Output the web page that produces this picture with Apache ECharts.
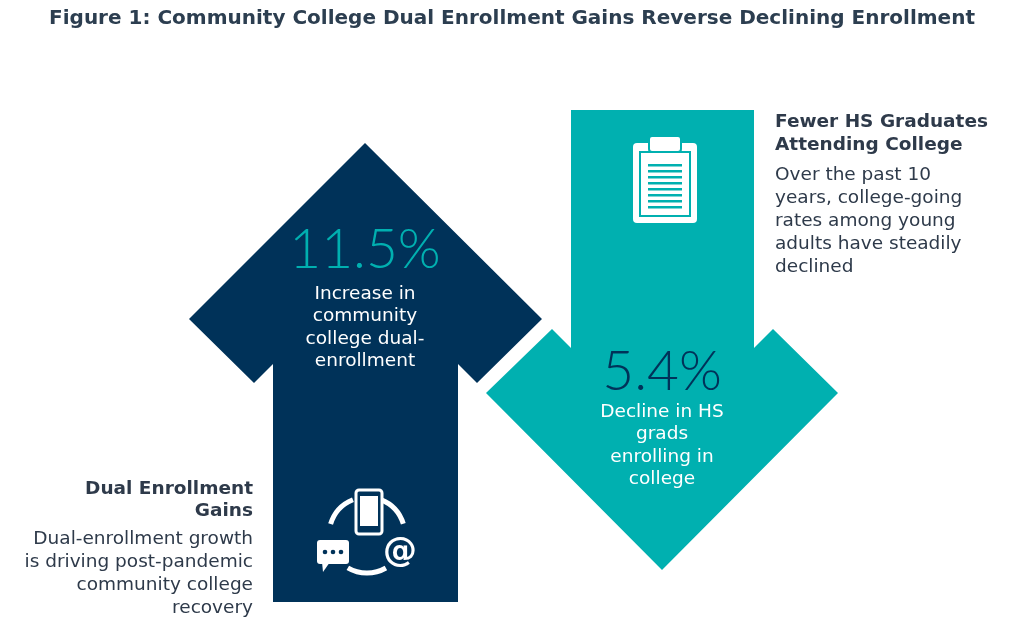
<!DOCTYPE html>
<html><head><meta charset="utf-8">
<script src="https://cdn.jsdelivr.net/npm/echarts@6/dist/echarts.min.js"></script>
<style>html,body{margin:0;padding:0;background:#fff}#c{width:1024px;height:643px}</style>
</head><body><div id="c"></div>
<script>
const title = 'Figure 1: Community College Dual Enrollment Gains Reverse Declining Enrollment';
const values = ['11.5%', '5.4%'];
const valueLabels = [['Increase in','community','college dual-','enrollment'], ['Decline in HS','grads','enrolling in','college']];
const sideHeads = [['Dual Enrollment','Gains'], ['Fewer HS Graduates','Attending College']];
const sideBodies = [['Dual-enrollment growth','is driving post-pandemic','community college','recovery'], ['Over the past 10','years, college-going','rates among young','adults have steadily','declined']];

const NAVY = '#003259', TEAL = '#00b0b0', TXT = '#2e3a4a';
const F = 'DejaVu Sans, Verdana, sans-serif';
const g = [];
g.push({type:'text', left:'center', top:9, style:{text:title, font:'bold 20px '+F, fill:'#2c3e50'}});
g.push({type:'polygon', shape:{points:[[365,143],[542,319],[477,383],[458,364],[458,602],[273,602],[273,364],[254,383],[189,319]]}, style:{fill:NAVY}});
g.push({type:'polygon', shape:{points:[[571,110],[754,110],[754,348],[773,329],[838,393],[662,570],[486,393],[552,329],[571,348]]}, style:{fill:TEAL}});
g.push({type:'text', x:365, y:250, style:{text:values[0], font:'300 55px Lato, "Noto Sans", sans-serif', fill:TEAL, textAlign:'center', textVerticalAlign:'middle'}});
g.push({type:'text', x:662, y:372, style:{text:values[1], font:'300 55px Lato, "Noto Sans", sans-serif', fill:NAVY, textAlign:'center', textVerticalAlign:'middle'}});
valueLabels[0].forEach((t,i)=>g.push({type:'text', x:365, y:294+i*22.5, style:{text:t, font:'18.5px '+F, fill:'#fff', textAlign:'center', textVerticalAlign:'middle'}}));
valueLabels[1].forEach((t,i)=>g.push({type:'text', x:662, y:412+i*22.5, style:{text:t, font:'18.5px '+F, fill:'#fff', textAlign:'center', textVerticalAlign:'middle'}}));
sideHeads[0].forEach((t,i)=>g.push({type:'text', x:253, y:489+i*22, style:{text:t, font:'bold 18.5px '+F, fill:TXT, textAlign:'right', textVerticalAlign:'middle'}}));
sideBodies[0].forEach((t,i)=>g.push({type:'text', x:253, y:539+i*23, style:{text:t, font:'18.5px '+F, fill:TXT, textAlign:'right', textVerticalAlign:'middle'}}));
sideHeads[1].forEach((t,i)=>g.push({type:'text', x:775, y:122+i*23, style:{text:t, font:'bold 18.5px '+F, fill:TXT, textAlign:'left', textVerticalAlign:'middle'}}));
sideBodies[1].forEach((t,i)=>g.push({type:'text', x:775, y:175+i*23, style:{text:t, font:'18.5px '+F, fill:TXT, textAlign:'left', textVerticalAlign:'middle'}}));
// clipboard icon
g.push({type:'rect', shape:{x:633,y:143,width:64,height:80,r:4}, style:{fill:'#fff'}});
g.push({type:'rect', shape:{x:639,y:151,width:52,height:66}, style:{fill:TEAL}});
g.push({type:'rect', shape:{x:641,y:153,width:48,height:62}, style:{fill:'#fff'}});
g.push({type:'rect', shape:{x:649,y:136,width:32,height:16,r:3}, style:{fill:'#fff', stroke:TEAL, lineWidth:2}});
for(let i=0;i<8;i++) g.push({type:'rect', shape:{x:648,y:164+i*6,width:34,height:2.5}, style:{fill:TEAL}});
// communication icon
g.push({type:'arc', shape:{cx:367,cy:535,r:38,startAngle:-1.2,endAngle:-0.3}, style:{stroke:'#fff', lineWidth:5, fill:null}});
g.push({type:'arc', shape:{cx:367,cy:535,r:38,startAngle:-2.85,endAngle:-1.95}, style:{stroke:'#fff', lineWidth:5, fill:null}});
g.push({type:'arc', shape:{cx:367,cy:535,r:38,startAngle:1.05,endAngle:2.1}, style:{stroke:'#fff', lineWidth:5, fill:null}});
g.push({type:'rect', shape:{x:356,y:490,width:26,height:44,r:3}, style:{fill:NAVY, stroke:'#fff', lineWidth:3}});
g.push({type:'rect', shape:{x:360,y:496,width:18,height:30}, style:{fill:'#fff'}});
g.push({type:'rect', shape:{x:317,y:540,width:32,height:24,r:3}, style:{fill:'#fff'}});
g.push({type:'polygon', shape:{points:[[322,562],[330,562],[323,572]]}, style:{fill:'#fff'}});
[325,333,341].forEach(x=>g.push({type:'circle', shape:{cx:x,cy:552,r:2.3}, style:{fill:NAVY}}));
g.push({type:'text', x:400, y:552, style:{text:'@', font:'bold 34px '+F, fill:'#fff', textAlign:'center', textVerticalAlign:'middle'}});
const chart = echarts.init(document.getElementById('c'));
chart.setOption({graphic:g});
</script></body></html>
